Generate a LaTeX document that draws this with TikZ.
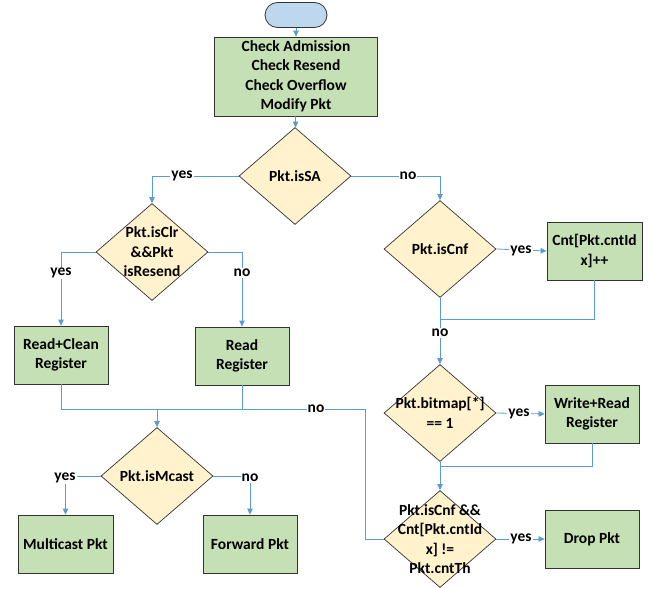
\documentclass[tikz,border=0pt]{standalone}
\usepackage{fontspec}
\setmainfont{Carlito}
\usetikzlibrary{shapes.geometric,arrows.meta}
\definecolor{lnblue}{HTML}{5B9BD5}
\definecolor{boxgreen}{HTML}{C5E0B4}
\definecolor{dyellow}{HTML}{FFF2CC}
\definecolor{termblue}{HTML}{BDD7EE}
\begin{document}
\begin{tikzpicture}[x=1pt,y=-1pt,
  every node/.style={font=\fontsize{15.5}{19.5}\selectfont\bfseries},
  proc/.style={draw=black!80, fill=boxgreen, minimum width=94pt, minimum height=58pt, inner sep=0pt, align=center, line width=0.8pt},
  dec/.style={diamond, draw=black!80, fill=dyellow, minimum width=112pt, minimum height=97pt, inner sep=0pt, line width=0.7pt},
  dtext/.style={align=center, inner sep=0pt},
  conn/.style={draw=lnblue, line width=0.8pt},
  arr/.style={conn, -{Triangle[length=6pt,width=5.5pt]}},
  lbl/.style={fill=white, inner sep=1pt}]
\useasboundingbox (0,0) rectangle (651,589);

% nodes
\node[draw=black!80, fill=termblue, rounded corners=12.5pt, minimum width=62pt, minimum height=25pt, line width=0.8pt] (start) at (296,15) {};
\node[proc, minimum width=163pt, minimum height=79pt] (init) at (296,76.5) {Check Admission\\Check Resend\\Check Overflow\\Modify Pkt};

\node[dec] (isSA) at (295,176) {};
\node[dtext] (isSAt) at (isSA) {Pkt.isSA};

\node[dec] (isClr) at (152,252) {};
\node[dtext] (isClrt) at (isClr) {Pkt.isClr\\\&\&Pkt\\isResend};

\node[dec] (isCnf) at (440,249) {};
\node[dtext] (isCnft) at (isCnf) {Pkt.isCnf};

\node[proc, minimum width=95pt] (cnt) at (594.5,251) {Cnt[Pkt.cntId\\x]++};

\node[proc] (rc) at (61,355) {Read+Clean\\Register};
\node[proc] (rd) at (242,356) {Read\\Register};

\node[dec] (bm) at (440,413) {};
\node[dtext] (bmt) at (bm) {Pkt.bitmap[*]\\== 1};
\node[proc] (wr) at (592,414) {Write+Read\\Register};

\node[dec] (mc) at (157,476) {};
\node[dtext] (mct) at (mc) {Pkt.isMcast};

\node[proc, minimum width=95pt] (mp) at (65.5,544) {Multicast Pkt};
\node[proc] (fp) at (250,544) {Forward Pkt};

\node[dec] (th) at (440,539) {};
\node[dtext] (tht) at (th) {Pkt.isCnf \&\&\\Cnt[Pkt.cntId\\x] !=\\Pkt.cntTh};
\node[proc] (dp) at (592,539) {Drop Pkt};

% helper coordinates
\coordinate (j) at (157,409);
\coordinate (k) at (365,409);
\coordinate (m1) at (440,319);
\coordinate (m2) at (440,466);

% connectors
\draw[arr] (start) -- (init);
\draw[arr] (init) -- (isSA);
\draw[arr] (isSA.west) -| (isClr.north);
\draw[arr] (isSA.east) -| (isCnf.north);
\draw[arr] (isClr.west) -| (rc.north);
\draw[arr] (isClr.east) -| (rd.north);
\draw[conn] (rc.south) |- (j);
\draw[conn] (rd.south) |- (j);
\draw[conn] (th.west) -| (k) -- (j);
\draw[arr] (j) -- (mc.north);
\draw[arr] (mc.west) -| (mp.north);
\draw[arr] (mc.east) -| (fp.north);
\draw[arr] (isCnf.east) -- (cnt.west);
\draw[conn] (cnt.south) |- (m1);
\draw[arr] (isCnf.south) -- (bm.north);
\draw[arr] (bm.east) -- (wr.west);
\draw[conn] (wr.south) |- (m2);
\draw[arr] (bm.south) -- (th.north);
\draw[arr] (th.east) -- (dp.west);

% labels
\node[lbl] (l1) at (182,176) {yes};
\node[lbl] (l2) at (408,176) {no};
\node[lbl] (l3) at (61,273) {yes};
\node[lbl] (l4) at (242,273) {no};
\node[lbl] (l5) at (521,251) {yes};
\node[lbl] (l6) at (440,333) {no};
\node[lbl] (l7) at (519,414) {yes};
\node[lbl] (l8) at (316,409) {no};
\node[lbl] (l9) at (65,478) {yes};
\node[lbl] (l10) at (250,478) {no};
\node[lbl] (l11) at (521,539) {yes};
\end{tikzpicture}
\end{document}
